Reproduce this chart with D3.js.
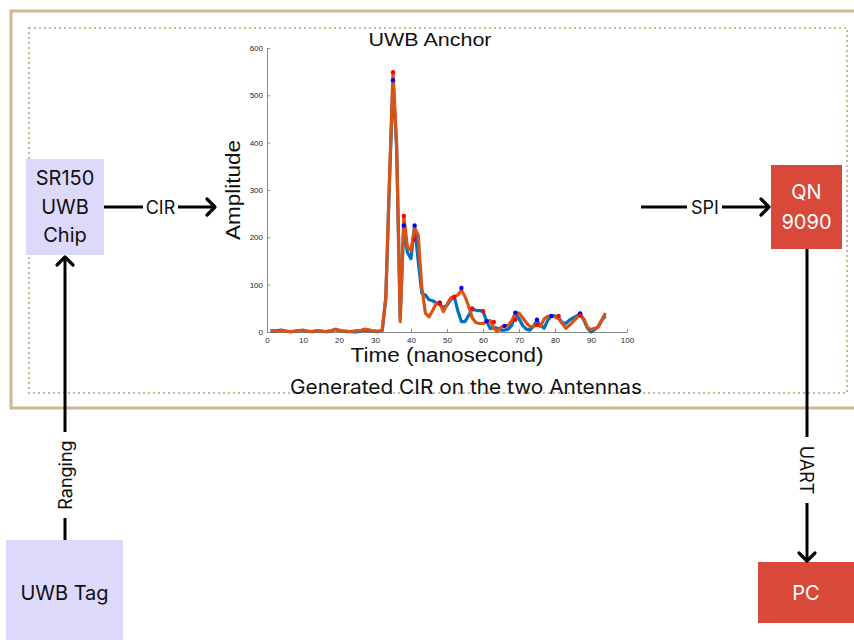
<!DOCTYPE html>
<html>
<head>
<meta charset="utf-8">
<script src="https://cdn.jsdelivr.net/npm/d3@7"></script>
<style>
  html, body { margin: 0; padding: 0; background: #fff; }
  svg { display: block; }
</style>
</head>
<body>
<svg id="fig" width="854" height="640"></svg>
<script>
// CIR amplitude per nanosecond, antenna 1 (blue) and antenna 2 (orange)
const timeNs = d3.range(1, 95);
const cirAntenna1 = [
  2, 2, 3, 4, 2, 1, 1, 2, 3, 3, 2, 1, 1, 2, 2, 1, 1, 3, 5, 3,
  2, 1, 1, 0, 0, 2, 4, 3, 2, 1, 1, 3, 70, 310, 532, 390, 30, 225, 168, 155,
  225, 150, 82, 78, 68, 66, 62, 58, 52, 56, 68, 75, 45, 22, 22, 35, 48, 46, 45, 44,
  23, 7, 10, 8, 4, 4, 6, 14, 40, 28, 14, 6, 4, 12, 24, 14, 8, 25, 34, 34,
  30, 20, 18, 25, 30, 34, 39, 25, 8, 0, 5, 12, 25, 34
];
const cirAntenna2 = [
  3, 3, 2, 3, 2, 1, 1, 2, 3, 4, 2, 1, 2, 3, 2, 1, 2, 3, 6, 4,
  2, 2, 1, 2, 3, 3, 6, 5, 3, 2, 2, 4, 75, 320, 549, 400, 22, 245, 180, 172,
  220, 205, 95, 40, 32, 45, 60, 60, 43, 58, 72, 75, 78, 88, 75, 55, 30, 20, 18, 18,
  22, 24, 8, 1, 10, 13, 14, 24, 40, 40, 30, 20, 12, 11, 17, 12, 28, 33, 34, 32,
  28, 18, 8, 14, 22, 30, 36, 28, 10, 5, 8, 10, 25, 40
];
// detected peaks [time, amplitude]
const peaksAntenna1 = [[35,532],[38,225],[41,225],[48,62],[54,93],[61,23],[66,13],[69,41],[75,26],[79,34],[87,39]];
const peaksAntenna2 = [[35,549],[38,245],[41,195],[48,60],[52,74],[57,50],[60,44],[63,21],[69,26],[75,15],[81,34],[87,35]];
const xTicks = [0, 10, 20, 30, 40, 50, 60, 70, 80, 90, 100];
const yTicks = [0, 100, 200, 300, 400, 500, 600];

const svg = d3.select("#fig");
const tan = "#cdb892";
const lavender = "#dcd9fb";
const redBox = "#d9493a";
const uiFont = "Inter, 'Noto Sans', sans-serif";
const plotFont = "'Liberation Sans', Arial, sans-serif";

// ---- enclosing anchor frame ----
svg.append("rect").attr("x", 11).attr("y", 11).attr("width", 850).attr("height", 397)
  .attr("fill", "none").attr("stroke", tan).attr("stroke-width", 3);
svg.append("rect").attr("x", 29).attr("y", 28).attr("width", 818).attr("height", 365)
  .attr("fill", "none").attr("stroke", tan).attr("stroke-width", 2)
  .attr("stroke-dasharray", "2,3");

// ---- CIR plot ----
const x = d3.scaleLinear().domain([0, 100]).range([267, 627]);
const y = d3.scaleLinear().domain([0, 600]).range([332, 48]);

const gx = svg.append("g").attr("transform", "translate(0,332)")
  .call(d3.axisBottom(x).tickValues(xTicks).tickSizeInner(-3).tickSizeOuter(0).tickPadding(5));
const gy = svg.append("g").attr("transform", "translate(267,0)")
  .call(d3.axisLeft(y).tickValues(yTicks).tickSizeInner(-3).tickSizeOuter(0).tickPadding(4));
[gx, gy].forEach(g => {
  g.select(".domain").attr("stroke", "#8a8a8a").attr("stroke-width", 1);
  g.selectAll(".tick line").attr("stroke", "#8a8a8a");
  g.selectAll(".tick text").attr("fill", "#262626").attr("font-size", 8).attr("font-family", plotFont);
});

const line = d3.line().x((d, i) => x(timeNs[i])).y(d => y(d));
svg.append("path").datum(cirAntenna1).attr("d", line)
  .attr("fill", "none").attr("stroke", "#0072bd").attr("stroke-width", 3.2).attr("stroke-linejoin", "round");
svg.append("path").datum(cirAntenna2).attr("d", line)
  .attr("fill", "none").attr("stroke", "#d95319").attr("stroke-width", 3.2).attr("stroke-linejoin", "round");

svg.append("g").selectAll("circle").data(peaksAntenna1).join("circle")
  .attr("cx", d => x(d[0])).attr("cy", d => y(d[1])).attr("r", 2.2).attr("fill", "#0000ff");
svg.append("g").selectAll("circle").data(peaksAntenna2).join("circle")
  .attr("cx", d => x(d[0])).attr("cy", d => y(d[1])).attr("r", 2.2).attr("fill", "#ff0000");

svg.append("text").attr("x", 430).attr("y", 46).attr("text-anchor", "middle")
  .attr("font-family", plotFont).attr("font-size", 18.5).attr("fill", "#111")
  .attr("textLength", 123).attr("lengthAdjust", "spacingAndGlyphs").text("UWB Anchor");
svg.append("text").attr("x", 447).attr("y", 362).attr("text-anchor", "middle")
  .attr("font-family", plotFont).attr("font-size", 20).attr("fill", "#111")
  .attr("textLength", 193).attr("lengthAdjust", "spacingAndGlyphs").text("Time (nanosecond)");
svg.append("text").attr("transform", "translate(240,190) rotate(-90)").attr("text-anchor", "middle")
  .attr("font-family", plotFont).attr("font-size", 20).attr("fill", "#111")
  .attr("textLength", 100).attr("lengthAdjust", "spacingAndGlyphs").text("Amplitude");

// caption sitting on the dotted frame
svg.append("text").attr("x", 466).attr("y", 394).attr("text-anchor", "middle")
  .attr("font-family", uiFont).attr("font-size", 20).attr("fill", "#111")
  .attr("textLength", 352).attr("lengthAdjust", "spacingAndGlyphs").text("Generated CIR on the two Antennas");

// ---- blocks ----
function box(x0, y0, w, h, fill, lines, color, lineGap, firstBaseline) {
  svg.append("rect").attr("x", x0).attr("y", y0).attr("width", w).attr("height", h).attr("fill", fill);
  lines.forEach((t, i) => svg.append("text")
    .attr("x", x0 + w / 2).attr("y", firstBaseline + i * lineGap).attr("text-anchor", "middle")
    .attr("font-family", uiFont).attr("font-size", 20).attr("fill", color).text(t));
}
box(26, 159, 78, 96, lavender, ["SR150", "UWB", "Chip"], "#111", 28.5, 185);
box(6, 540, 117, 100, lavender, ["UWB Tag"], "#111", 0, 600);
box(771, 165, 71, 84, redBox, ["QN", "9090"], "#fff", 30, 199);
box(758, 562, 96, 61, redBox, ["PC"], "#fff", 0, 600);

// ---- connectors ----
const ink = "#000";
function seg(x1, y1, x2, y2) {
  svg.append("line").attr("x1", x1).attr("y1", y1).attr("x2", x2).attr("y2", y2)
    .attr("stroke", ink).attr("stroke-width", 3);
}
function head(tx, ty, dir) {
  // open chevron arrowhead, dir: "right", "up", "down"
  const s = 8;
  let p;
  if (dir === "right") p = [[tx - s, ty - s], [tx, ty], [tx - s, ty + s]];
  if (dir === "up") p = [[tx - s, ty + s], [tx, ty], [tx + s, ty + s]];
  if (dir === "down") p = [[tx - s, ty - s], [tx, ty], [tx + s, ty - s]];
  svg.append("path").attr("d", d3.line()(p)).attr("fill", "none").attr("stroke", ink)
    .attr("stroke-width", 3.2).attr("stroke-linecap", "round").attr("stroke-linejoin", "round");
}
function label(t, cx, cy, rot) {
  svg.append("text").attr("transform", `translate(${cx},${cy}) rotate(${rot})`)
    .attr("text-anchor", "middle").attr("dominant-baseline", "central")
    .attr("font-family", uiFont).attr("font-size", 18).attr("fill", "#111").text(t);
}

// SR150 -> plot (CIR)
seg(104, 207, 143, 207); seg(178, 207, 214, 207); head(215, 207, "right");
label("CIR", 160.5, 207.5, 0);
// plot -> QN9090 (SPI)
seg(641, 207, 687, 207); seg(722, 207, 768, 207); head(769, 207, "right");
label("SPI", 705, 207.5, 0);
// tag -> SR150 (Ranging)
seg(65, 540, 65, 518); seg(65, 432, 65, 258); head(65, 257, "up");
label("Ranging", 65, 475, -90);
// QN9090 -> PC (UART)
seg(807, 249, 807, 437); seg(807, 503, 807, 559); head(807, 561, "down");
label("UART", 806, 470, 90);
</script>
</body>
</html>
